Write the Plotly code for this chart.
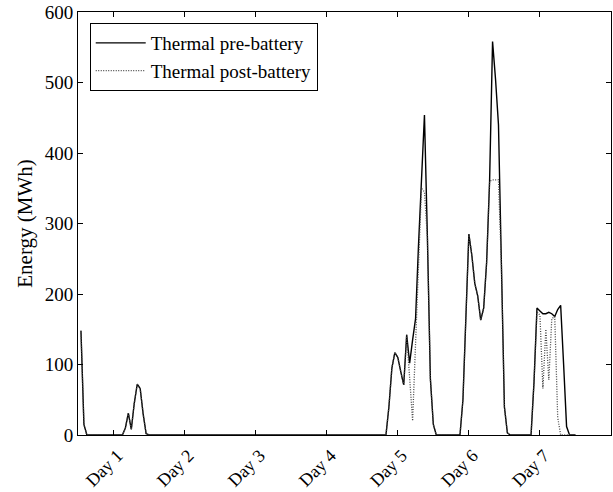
import plotly.graph_objects as go

# hourly data, hours 1..168 (one row per day)
hours = list(range(1, 169))

pre_battery = (
    [148, 15, 0, 0, 0, 0, 0, 0, 0, 0, 0, 0, 0, 0, 0, 10, 31, 8, 45, 72, 66, 30, 2, 0]          # day 1
    + [0] * 24                                                                                # day 2
    + [0] * 24                                                                                # day 3
    + [0] * 24                                                                                # day 4
    + [0, 0, 0, 0, 0, 0, 0, 0, 40, 95, 117, 110, 90, 71, 142, 102, 135, 165, 270, 370, 454, 280, 80, 15]   # day 5
    + [0, 0, 0, 0, 0, 0, 0, 0, 0, 50, 180, 285, 255, 215, 197, 163, 180, 245, 360, 558, 505, 440, 240, 40]  # day 6
    + [3, 0, 0, 0, 0, 0, 0, 0, 0, 75, 180, 176, 172, 172, 174, 172, 168, 178, 184, 100, 12, 0, 0, 0]       # day 7
)

post_battery = (
    [148, 15, 0, 0, 0, 0, 0, 0, 0, 0, 0, 0, 0, 0, 0, 10, 31, 8, 45, 72, 66, 30, 2, 0]
    + [0] * 24
    + [0] * 24
    + [0] * 24
    + [0, 0, 0, 0, 0, 0, 0, 0, 40, 95, 117, 110, 90, 71, 142, 85, 20, 130, 240, 350, 345, 280, 80, 15]
    + [0, 0, 0, 0, 0, 0, 0, 0, 0, 50, 180, 285, 255, 215, 197, 163, 180, 245, 360, 362, 362, 362, 240, 40]
    + [3, 0, 0, 0, 0, 0, 0, 0, 0, 75, 175, 170, 66, 150, 78, 165, 168, 25, 0, 0, 0, 0, 0, 0]
)

day_ticks = [12, 36, 60, 84, 108, 132, 156]
day_labels = ["Day 1", "Day 2", "Day 3", "Day 4", "Day 5", "Day 6", "Day 7"]
y_ticks = [0, 100, 200, 300, 400, 500, 600]

FONT = "Liberation Serif"

fig = go.Figure()
fig.add_trace(go.Scatter(
    x=hours, y=pre_battery, mode="lines", name="Thermal pre-battery",
    line=dict(color="black", width=1.4),
))
fig.add_trace(go.Scatter(
    x=hours, y=post_battery, mode="lines", name="Thermal post-battery",
    line=dict(color="#444444", width=1.3, dash="1px,1.5px"),
))

axis_common = dict(
    showline=True, linecolor="black", linewidth=1, mirror="ticks",
    ticks="inside", ticklen=5, tickcolor="black", tickwidth=1,
    showgrid=False, zeroline=False, automargin=False,
)

fig.update_xaxes(
    range=[0, 180], tickvals=day_ticks, ticktext=day_labels, tickangle=-45,
    tickfont=dict(family=FONT, size=18, color="black"),
    ticklabelshift=4, ticklabelstandoff=2,
    **axis_common,
)
fig.update_yaxes(
    range=[0, 600], tickvals=y_ticks,
    tickfont=dict(family=FONT, size=19, color="black"),
    title=dict(text="Energy (MWh)", font=dict(family=FONT, size=21, color="black"), standoff=6),
    ticklabeloverflow="allow",
    **axis_common,
)

fig.update_layout(
    width=613, height=492,
    margin=dict(l=78, r=2, t=12, b=57),
    paper_bgcolor="white", plot_bgcolor="white",
    font=dict(family=FONT, color="black"),
    legend=dict(
        x=0.022, y=0.974, xanchor="left", yanchor="top",
        bgcolor="white", bordercolor="black", borderwidth=1,
        font=dict(family=FONT, size=19, color="black"),
        tracegroupgap=0, itemwidth=50,
    ),
    showlegend=True,
)

# remove the default page margin so the 613x492 figure fills the window exactly
fig.write_html(
    "out.html",
    config={"displayModeBar": False},
    post_script="document.body.style.margin='0';document.body.style.overflow='hidden';",
)
